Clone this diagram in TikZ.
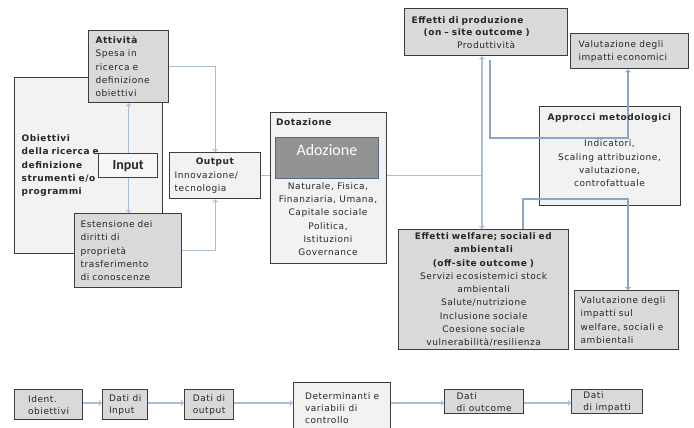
\documentclass[tikz,border=0pt]{standalone}
\usepackage{fontspec}
\setmainfont{DejaVu Sans}[LetterSpace=6]
\newfontfamily\calfont{Carlito}
\newcommand{\boxfont}{\fontsize{9}{13.3}\selectfont}
\definecolor{edge}{HTML}{3C3C3C}
\definecolor{lightfill}{HTML}{F2F2F2}
\definecolor{darkfill}{HTML}{D9D9D9}
\definecolor{adofill}{HTML}{939393}
\definecolor{adoedge}{HTML}{55677A}
\definecolor{linkcol}{HTML}{A9BDD6}
\definecolor{linkdark}{HTML}{8DA5C4}
\definecolor{txtcol}{HTML}{262626}

\begin{document}
\begin{tikzpicture}[x=1pt,y=-1pt,
  tbox/.style={draw=edge, line width=1.3pt, anchor=north west, inner sep=0pt, text=txtcol, font=\boxfont},
  lightbox/.style={tbox, fill=lightfill},
  darkbox/.style={tbox, fill=darkfill},
  link/.style={linkcol, line width=1.1pt},
  linkd/.style={linkdark, line width=1.1pt}]
\useasboundingbox (0,0) rectangle (694,428);
\clip (0,0) rectangle (694,428);
\fill[white] (0,0) rectangle (694,428);

% ricerca e input
\node[lightbox, minimum width=148pt, minimum height=176pt, inner xsep=7pt, text width=134pt, align=left, font=\boxfont\bfseries] (obiettivi) at (14,77) {Obiettivi\\della ricerca e\\definizione\\strumenti e/o\\programmi};
\node[darkbox, minimum width=80pt, minimum height=72pt, inner xsep=7pt, text width=66pt, align=left] (attivita) at (88,30) {\textbf{Attività}\\Spesa in\\ricerca e\\definizione\\obiettivi};
\node[darkbox, minimum width=107pt, minimum height=74pt, inner xsep=6pt, text width=95pt, align=left] (estensione) at (74,213) {Estensione dei\\diritti di\\proprietà\\trasferimento\\di conoscenze};
\draw[link,<->] (attivita.south) -- (attivita.south |- estensione.north);
\node[tbox, fill=white!97!black, minimum width=59pt, minimum height=24pt, font=\calfont\bfseries\fontsize{14}{16}\selectfont] (input) at (98,153) {Input};

% output
\node[lightbox, minimum width=91pt, minimum height=46pt, inner xsep=5pt, text width=81pt, align=left] (output) at (169,152) {\makebox[\linewidth]{\textbf{Output}}\\Innovazione/\\tecnologia};
\draw[link,->] (attivita.east) -| (output.north);
\draw[link,->] (estensione.east) -| (output.south);
\coordinate (jn) at (482,175);
\draw[link] (output.east) -- (output.east -| jn);

% dotazione
\node[lightbox, minimum width=116pt, minimum height=151pt] (dotazione) at (270,112) {};
\node[anchor=west, inner sep=0pt, text=txtcol, font=\boxfont\bfseries] (dottitle) at (276,122) {Dotazione};
\node[anchor=north west, draw=adoedge, line width=0.8pt, fill=adofill, minimum width=103pt, inner sep=3pt, text height=15pt, text depth=20pt, text=white, font=\calfont\fontsize{16}{18}\selectfont] (adozione) at (275,137) {Adozione};
\node[align=center, inner sep=0pt, text=txtcol, font=\boxfont] (dottxt) at (328,219) {Naturale, Fisica,\\Finanziaria, Umana,\\Capitale sociale\\Politica,\\Istituzioni\\Governance};

% effetti e valutazione
\node[darkbox, minimum width=163pt, minimum height=47pt, inner xsep=7pt, text width=149pt, align=left, font=\fontsize{9}{12.5}\selectfont] (effprod) at (404,8) {\textbf{Effetti di produzione}\\\hspace*{12pt}\textbf{(on – site outcome )}\\\makebox[\linewidth]{Produttività}};
\node[darkbox, minimum width=118pt, minimum height=35pt, inner xsep=8pt, text width=102pt, align=left, font=\fontsize{9}{13}\selectfont] (valecon) at (570,33) {Valutazione degli\\impatti economici};
\node[lightbox, minimum width=141pt, minimum height=99pt] (approcci) at (539,106) {};
\node[darkbox, minimum width=170pt, minimum height=120pt, inner xsep=6pt, text width=158pt, align=center] (effwel) at (398,229) {\textbf{Effetti welfare; sociali ed}\\\textbf{ambientali}\\\textbf{(off-site outcome )}\\Servizi ecosistemici stock\\ambientali\\Salute/nutrizione\\Inclusione sociale\\Coesione sociale\\vulnerabilità/resilienza};
\node[darkbox, minimum width=104pt, minimum height=59pt, inner xsep=6pt, text width=92pt, align=left] (valwel) at (574,290) {Valutazione degli\\impatti sul\\welfare, sociali e\\ambientali};

\draw[link,<->] (effprod.south -| jn) -- (effwel.north -| jn);
\coordinate (pstart) at (490,60);
\coordinate (bend) at (628,138);
\draw[linkd,->] (pstart) |- (bend) -- (bend |- valecon.south);
\coordinate (wup) at (523,199);
\coordinate (wturn) at (628,199);
\draw[linkd,->] (effwel.north -| wup) -- (wup) -- (wturn) -- (wturn |- valwel.north);
\node[align=center, inner sep=0pt, text=txtcol, font=\boxfont] (approtxt) at (609.5,150) {\textbf{Approcci metodologici}\\[13.3pt]Indicatori,\\Scaling attribuzione,\\valutazione,\\controfattuale};

% riga dei dati
\tikzset{rowbox/.style={darkbox, align=left, font=\fontsize{9}{12}\selectfont}}
\node[rowbox, minimum width=68pt, minimum height=30pt] (ident) at (14,389) {Ident.\\obiettivi};
\node[rowbox, minimum width=45pt, minimum height=30pt] (datinput) at (102,389) {Dati di\\Input};
\node[rowbox, minimum width=49pt, minimum height=30pt] (datoutput) at (184,389) {Dati di\\output};
\node[rowbox, fill=lightfill, minimum width=97pt, minimum height=50pt] (determ) at (293,382) {Determinanti e\\variabili di\\controllo};
\node[rowbox, minimum width=79pt, minimum height=24pt] (datoutcome) at (444,389) {Dati\\di outcome};
\node[rowbox, minimum width=71pt, minimum height=24pt] (datimpatti) at (571,389) {Dati\\di impatti};
\coordinate (rowy) at (0,403);
\foreach \a/\b in {ident/datinput, datinput/datoutput, datoutput/determ, determ/datoutcome, datoutcome/datimpatti}
  \draw[link,->] (\a.east |- rowy) -- (\b.west |- rowy);
\end{tikzpicture}
\end{document}
